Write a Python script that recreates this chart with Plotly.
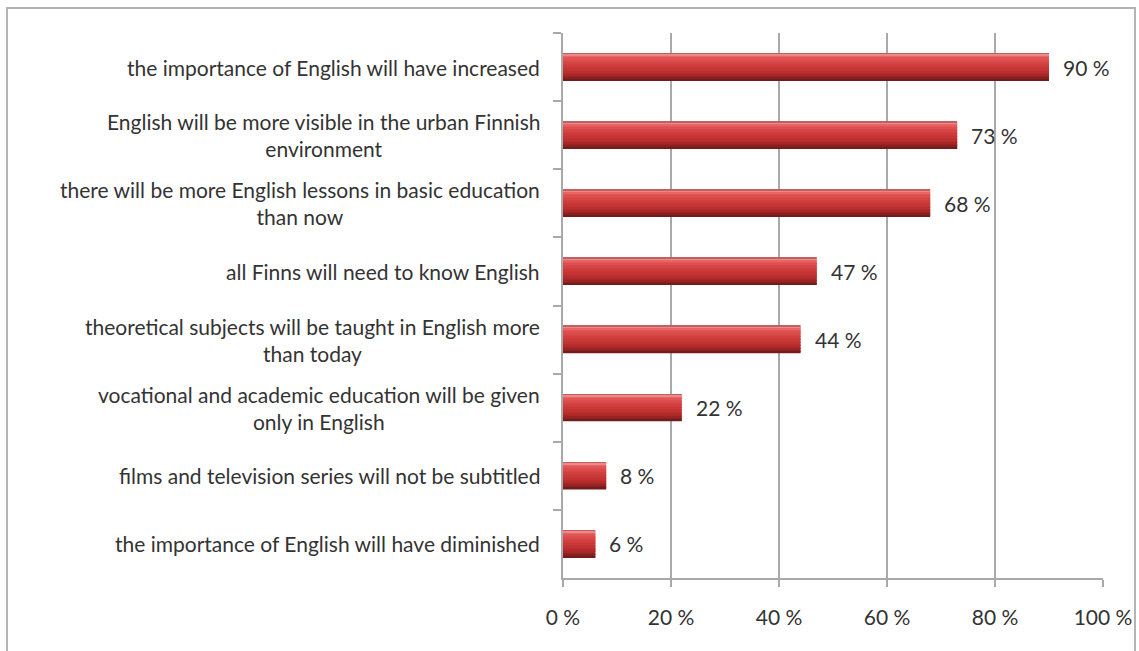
import numpy as np
import plotly.graph_objects as go

# Survey statements (top to bottom) and share of respondents agreeing
statements = [
    "the importance of English will have increased",
    "English will be more visible in the urban Finnish<br>environment",
    "there will be more English lessons in basic education<br>than now",
    "all Finns will need to know English",
    "theoretical subjects will be taught in English more<br>than today",
    "vocational and academic education will be given<br>only in English",
    "films and television series will not be subtitled",
    "the importance of English will have diminished",
]
shares = [90, 73, 68, 47, 44, 22, 8, 6]
x_ticks = [0, 20, 40, 60, 80, 100]

FONT = "Lato"
TEXT = "#333333"
GRID = "#a9a9a9"

W, H = 1139, 651
L, R, T, B = 563, 36, 33, 73
pw, ph = W - L - R, H - T - B

fig = go.Figure()

# Cylinder-like shading: vertical colour profile across the bar thickness
bar_w = 0.4
stops_t = [0.00, 0.06, 0.16, 0.45, 0.72, 0.88, 1.00]
stops_rgb = np.array([
    [150, 50, 50],
    [240, 150, 150],
    [228, 88, 88],
    [208, 60, 60],
    [186, 46, 46],
    [150, 34, 34],
    [105, 26, 26],
], dtype=float)
n_bands = 18
edges = np.linspace(0, 1, n_bands + 1)
for i in range(n_bands):
    mid = (edges[i] + edges[i + 1]) / 2
    rgb = [np.interp(mid, stops_t, stops_rgb[:, k]) for k in range(3)]
    col = "rgb({:.0f},{:.0f},{:.0f})".format(*rgb)
    thick = bar_w / n_bands
    fig.add_trace(go.Bar(
        x=shares, y=statements, orientation="h",
        width=thick + (0.006 if i < n_bands - 1 else 0),
        offset=-bar_w / 2 + edges[i] * bar_w,
        marker=dict(color=col, line=dict(width=0)),
        hoverinfo="skip", showlegend=False,
    ))

# Value labels to the right of each bar
for s, v in zip(statements, shares):
    fig.add_annotation(x=v, y=s, xref="x", yref="y", text=f"{v} %",
                       showarrow=False, xanchor="left", xshift=12,
                       font=dict(family=FONT, size=21, color=TEXT))

# Category labels, centred when wrapped on two lines
for s in statements:
    fig.add_annotation(x=0, y=s, xref="paper", yref="y", text=s,
                       showarrow=False, xanchor="right", xshift=-21,
                       align="center",
                       font=dict(family=FONT, size=21, color=TEXT))

# Outer chart frame
fig.add_shape(type="rect", xref="paper", yref="paper", layer="below",
              x0=(7 - L) / pw, x1=(1135 - L) / pw,
              y0=-(H + 20 - T - ph) / ph, y1=1 + (T - 8) / ph,
              line=dict(color="#b4b4b4", width=2), fillcolor="rgba(0,0,0,0)")

fig.update_layout(
    width=W, height=H,
    margin=dict(l=L, r=R, t=T, b=B, autoexpand=False),
    barmode="overlay",
    paper_bgcolor="white", plot_bgcolor="white",
    font=dict(family=FONT, size=21, color=TEXT),
    xaxis=dict(range=[0, 100], tickvals=x_ticks,
               ticktext=[f"{t} %" for t in x_ticks],
               showgrid=True, gridcolor=GRID, gridwidth=1.5,
               showline=True, linecolor=GRID, linewidth=1.5,
               ticks="outside", ticklen=7, tickcolor=GRID, tickwidth=1.5,
               ticklabelstandoff=13, zeroline=False, automargin=False,
               tickfont=dict(family=FONT, size=21, color=TEXT)),
    yaxis=dict(type="category", categoryorder="array",
               categoryarray=statements, autorange="reversed",
               showticklabels=False, showgrid=False, automargin=False,
               showline=True, linecolor=GRID, linewidth=1.5,
               ticks="outside", ticklen=8, tickcolor=GRID, tickwidth=1.5,
               tickson="boundaries"),
)

fig.write_html("out.html")
